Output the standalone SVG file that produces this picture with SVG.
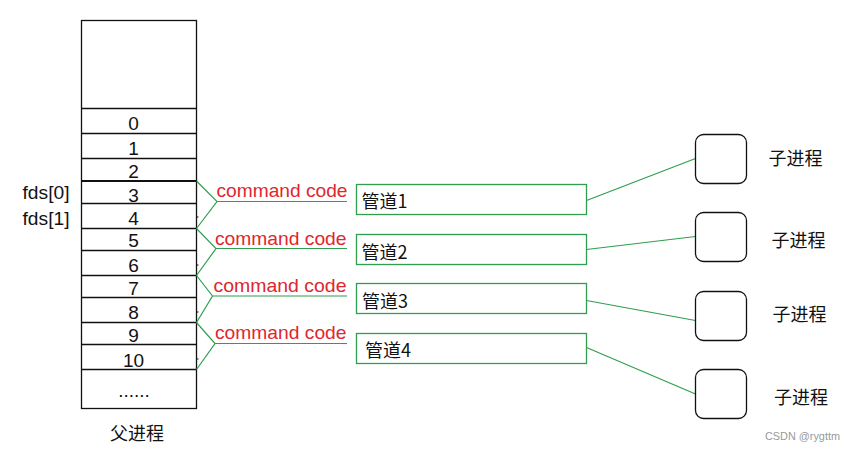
<svg xmlns="http://www.w3.org/2000/svg" width="856" height="452" viewBox="0 0 856 452">
<style>
.t{font-family:"Liberation Sans","Noto Sans CJK SC",sans-serif;fill:#111;font-size:19px}
.c{font-family:"Noto Sans CJK SC","Liberation Sans",sans-serif;fill:#111;font-size:18px}
.d{text-anchor:middle}
.cmd{font-family:"Liberation Sans",sans-serif;fill:#e0262e;font-size:18.5px}
.g{fill:none;stroke:#2f9e4f;stroke-width:1.2}
.k{fill:none;stroke:#111;stroke-width:1.3}
.pipe{fill:#fff;stroke:#2f9e4f;stroke-width:1.3}
.child{fill:#fff;stroke:#111;stroke-width:1.3}
</style>
<rect width="856" height="452" fill="#fff"/>
<g id="parent">
<rect class="k" x="81.5" y="20.5" width="115" height="388"/>
<path class="k" d="M81.5 108.5H196.5M81.5 133.5H196.5M81.5 158.5H196.5M81.5 203.5H196.5M81.5 228.5H196.5M81.5 250.5H196.5M81.5 275.5H196.5M81.5 297.5H196.5M81.5 322.5H196.5M81.5 344.5H196.5M81.5 369.5H196.5"/>
<path d="M81.5 181H196.5" stroke="#111" stroke-width="2.2"/>
<path d="M196.5 217h2M196.5 265h2M196.5 312h2M196.5 359h2" stroke="#111" stroke-width="1"/>
<text class="t d" x="133.5" y="129.5">0</text>
<text class="t d" x="133.5" y="154.5">1</text>
<text class="t d" x="133.5" y="177.5">2</text>
<text class="t d" x="133.5" y="201.5">3</text>
<text class="t d" x="133.5" y="225">4</text>
<text class="t d" x="133.5" y="247">5</text>
<text class="t d" x="133.5" y="272">6</text>
<text class="t d" x="133.5" y="295">7</text>
<text class="t d" x="133.5" y="318.5">8</text>
<text class="t d" x="133.5" y="342">9</text>
<text class="t d" x="133.5" y="367">10</text>
<text class="t d" x="134" y="397">......</text>
<text class="t" x="22.5" y="199" textLength="47" lengthAdjust="spacingAndGlyphs">fds[0]</text>
<text class="t" x="22.5" y="224.5" textLength="47" lengthAdjust="spacingAndGlyphs">fds[1]</text>
<text class="c" x="110" y="439.5" textLength="54" lengthAdjust="spacingAndGlyphs">父进程</text>
</g>
<g id="connectors">
<path class="g" d="M196.5 181L217 201.5L196.5 228.5M217 201.5H347"/>
<path class="g" d="M196.5 228.5L216 248.5L196.5 275.5M216 248.5H347"/>
<path class="g" d="M196.5 275.5L212.5 296L196.5 322.5M212.5 296H347"/>
<path class="g" d="M196.5 322.5L215 343.5L196.5 369.5M215 343.5H347"/>
<path class="g" d="M586.5 200.5L695.5 158.5"/>
<path class="g" d="M586.5 249.5L695.5 236.5"/>
<path class="g" d="M586.5 300.5L695.5 320.5"/>
<path class="g" d="M586.5 347.5L695.5 394"/>
<text class="cmd" x="216.5" y="197" textLength="131" lengthAdjust="spacingAndGlyphs">command code</text>
<text class="cmd" x="215" y="244.5" textLength="131.5" lengthAdjust="spacingAndGlyphs">command code</text>
<text class="cmd" x="213.5" y="292" textLength="133" lengthAdjust="spacingAndGlyphs">command code</text>
<text class="cmd" x="215" y="338.5" textLength="131.5" lengthAdjust="spacingAndGlyphs">command code</text>
</g>
<g id="pipe1"><rect class="pipe" x="356.5" y="184.5" width="230" height="30"/><text class="c" x="361.5" y="207.5">管道1</text></g>
<g id="pipe2"><rect class="pipe" x="356.5" y="234.5" width="230" height="30"/><text class="c" x="361.5" y="258.5">管道2</text></g>
<g id="pipe3"><rect class="pipe" x="356.5" y="283.5" width="230" height="30"/><text class="c" x="362" y="307.5">管道3</text></g>
<g id="pipe4"><rect class="pipe" x="356.5" y="333.5" width="230" height="30"/><text class="c" x="365" y="357">管道4</text></g>
<g id="child1"><rect class="child" x="695.5" y="134.5" width="51" height="49" rx="8"/><text class="c" x="768.5" y="164.5">子进程</text></g>
<g id="child2"><rect class="child" x="695.5" y="212.5" width="51" height="49" rx="8"/><text class="c" x="771.5" y="247">子进程</text></g>
<g id="child3"><rect class="child" x="695.5" y="291.5" width="51" height="49" rx="8"/><text class="c" x="772.5" y="321">子进程</text></g>
<g id="child4"><rect class="child" x="695.5" y="369.5" width="51" height="49" rx="8"/><text class="c" x="774" y="403.5">子进程</text></g>
<text x="765" y="439.5" font-family="Liberation Sans,sans-serif" font-size="11" fill="#999" textLength="75" lengthAdjust="spacingAndGlyphs">CSDN @rygttm</text>
</svg>
